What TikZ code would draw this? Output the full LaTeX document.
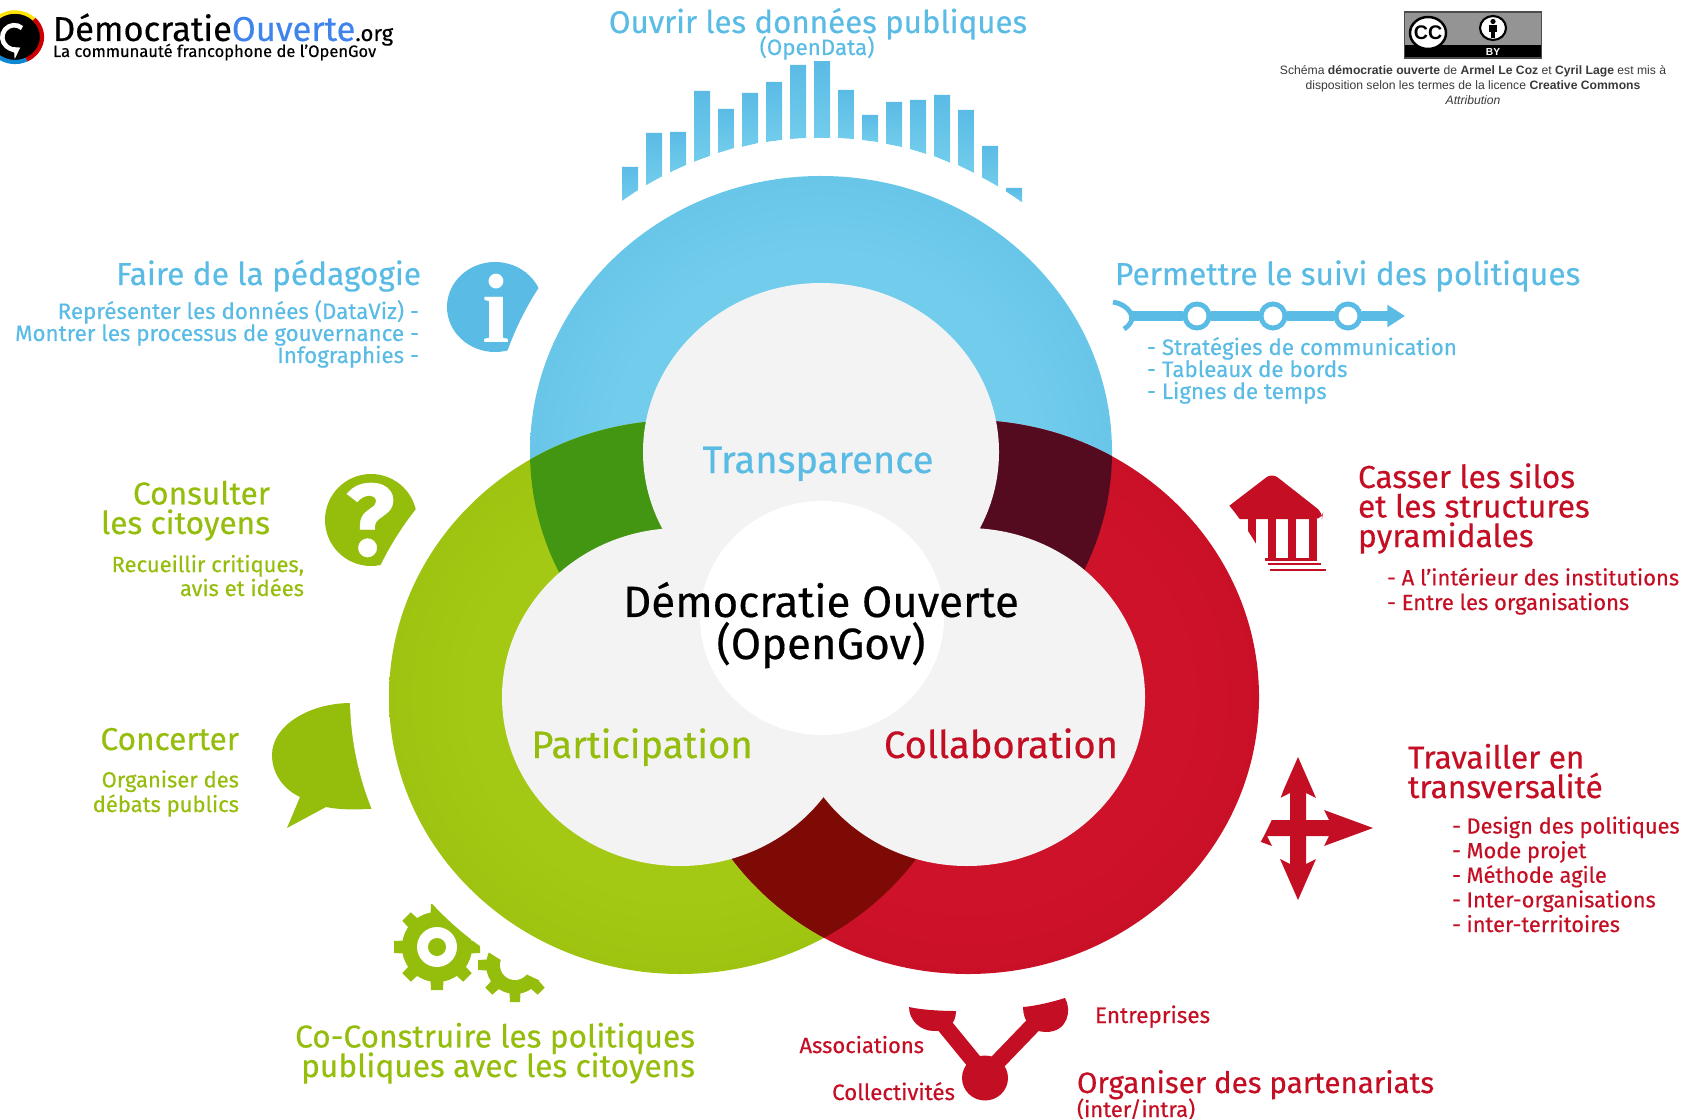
\documentclass[tikz,border=0pt]{standalone}
\usepackage{fontspec}
\setmainfont{Fira Sans}[FakeBold=0.4]
\newfontfamily\licfont{Liberation Sans}
\newfontfamily\iconfont{Liberation Serif}
\usetikzlibrary{arrows.meta}
\lineskiplimit=-20pt
\definecolor{bleu}{HTML}{5ABBE5}
\definecolor{bleuclair}{HTML}{72CDEC}
\definecolor{vert}{HTML}{95BD0C}
\definecolor{vertclair}{HTML}{A4C914}
\definecolor{vertfonce}{HTML}{429612}
\definecolor{rouge}{HTML}{C40E24}
\definecolor{rougeclair}{HTML}{CE1229}
\definecolor{bordeaux}{HTML}{540B1F}
\definecolor{brique}{HTML}{7E0A06}
\definecolor{coeur}{HTML}{F3F3F3}
\pgfdeclareradialshading{anneaubleu}{\pgfpointorigin}{color(0bp)=(bleuclair);color(18bp)=(bleuclair);color(35bp)=(bleu)}
\pgfdeclareradialshading{anneauvert}{\pgfpointorigin}{color(0bp)=(vertclair);color(18bp)=(vertclair);color(35bp)=(vert)}
\pgfdeclareradialshading{anneaurouge}{\pgfpointorigin}{color(0bp)=(rougeclair);color(18bp)=(rougeclair);color(35bp)=(rouge)}
\def\cercleB{(821,452) ellipse (291 and 276)}
\def\cercleV{(680,697) ellipse (291 and 277)}
\def\cercleR{(968,697) ellipse (291 and 277)}
\newcommand{\engrenage}[4]{%
	\foreach \a in {0,45,...,315}
		\fill[vert,rotate around={\a:(#1,#2)}] ({#1-#4-2},#2) -- ({#1-#4},{#2+#3}) -- ({#1+#4},{#2+#3}) -- ({#1+#4+2},#2) -- cycle;%
}
\tikzset{
	txt/.style={inner sep=0pt,outer sep=0pt},
	titre/.style={txt,font=\fontsize{9}{8.4}\selectfont},
	detail/.style={txt,font=\fontsize{6.25}{7}\selectfont},
	cle/.style={txt,font=\fontsize{10.85}{12}\selectfont},
	etape/.style={circle,draw=bleu,fill=white,line width=1.4pt,minimum size=24*0.2845pt,inner sep=0pt},
	ligne/.style={bleu,line width=3.1pt},
}
\begin{document}
\begin{tikzpicture}[x=0.01cm,y=-0.01cm]
	\useasboundingbox (0,0) rectangle (1689,1119);
	% info
	\fill[bleu] (495,307) ellipse (48 and 45);
	\node[txt,white,font=\iconfont\bfseries\fontsize{28}{28}\selectfont] (lettre) at (496,308) {i};
	% barres du haut
	\foreach \x/\t/\l/\r in {622/167/202/191,646/133/186/177,670/132/173/165,694/91/162/156,718/109/153/148,742/93/147/143,766/82/142/140,790/65/139/138,814/62/138/138,838/90/138/139,862/115/140/142,886/102/144/147,910/100/149/154,934/95/156/163,958/110/165/173,982/146/178/187,1006/188/192/203}
		\shade[top color=bleu,bottom color=bleuclair] (\x,\t) -- ({\x+16},\t) -- ({\x+16},\r) -- (\x,\l) -- cycle;
	\fill[white] (821,452) ellipse (331 and 314);
	% question
	\fill[vert] (371,520) circle (46);
	\node[txt,white,font=\bfseries\fontsize{29}{29}\selectfont] (question) at (370,520) {?};
	% bulle
	\fill[vert] (351,703) .. controls (310,703) and (272,725) .. (272,755) .. controls (272,775) and (285,790) .. (300,797) -- (287,828) -- (326,807) .. controls (340,810) and (360,810) .. (380,808) -- (400,808) -- (400,703) -- cycle;
	% engrenages
	\engrenage{515}{965}{37}{5}
	\fill[vert] (515,965) circle (29);
	\fill[white] (515,965) circle (15);
	\engrenage{437}{947}{43}{6}
	\fill[vert] (437,947) circle (35);
	\fill[white] (437,947) circle (20);
	\fill[vert] (437,947) circle (9);
	\fill[white] (680,697) ellipse (330 and 313);
	% temple
	\fill[rouge,rounded corners=2] (1272,473) -- (1323,513) -- (1322,519) -- (1212,519) -- cycle;
	\foreach \x in {1248,1268,1288,1309}
		\fill[rouge] (\x,519) rectangle ({\x+8},560);
	\fill[rouge] (1265,558) rectangle (1317,561);
	\fill[rouge] (1268,563) rectangle (1321,565);
	\fill[rouge] (1270,569) rectangle (1326,571);
	% fleches
	\fill[rouge] (1298,757) -- (1316,798) -- (1306,793) -- (1306,820) -- (1329,820) -- (1324,810) -- (1373,828) -- (1324,846) -- (1329,836) -- (1306,836) -- (1306,864) -- (1316,859) -- (1298,900) -- (1280,859) -- (1290,864) -- (1290,836) -- (1267,836) -- (1272,846) -- (1223,828) -- (1272,810) -- (1267,820) -- (1290,820) -- (1290,793) -- (1280,798) -- cycle;
	\fill[white] (968,697) ellipse (330 and 313);
	% les trois anneaux
	\shade[shading=anneaubleu] \cercleB;
	\shade[shading=anneauvert] \cercleV;
	\shade[shading=anneaurouge] \cercleR;
	\begin{scope}
		\clip \cercleB;
		\fill[vertfonce] \cercleV;
		\fill[bordeaux] \cercleR;
	\end{scope}
	\begin{scope}
		\clip \cercleV;
		\fill[brique] \cercleR;
	\end{scope}
	\fill[coeur] (821,452) ellipse (178 and 169);
	\fill[coeur] (680,697) ellipse (178 and 169);
	\fill[coeur] (967,697) ellipse (178 and 169);
	\fill[white] (822,618) ellipse (122 and 117);
	% partenariats
	\fill[rouge] (985,1078) ellipse (23 and 22.5);
	\draw[rouge,line width=4.6pt] (940,1020) -- (985,1075);
	\draw[rouge,line width=4.6pt] (1038,1020) -- (985,1075);
	\fill[rouge] (909,1007) .. controls (922,1010) and (942,1011) .. (956,1011) .. controls (956,1025) and (946,1031) .. (934,1031) .. controls (920,1031) and (909,1020) .. (909,1007) -- cycle;
	\fill[rouge] (1023,1007) .. controls (1036,1006) and (1052,1002) .. (1065,998) .. controls (1072,1010) and (1068,1032) .. (1046,1032) .. controls (1032,1032) and (1023,1022) .. (1023,1007) -- cycle;
	% suivi
	\coordinate (depart) at (1130,316);
	\coordinate (arrivee) at (1405,316);
	\node[etape] (e1) at (1197,316) {};
	\node[etape] (e2) at (1273,316) {};
	\node[etape] (e3) at (1348,316) {};
	\draw[bleu,line width=1.4pt] (1113,302) .. controls (1127,304) and (1141,318) .. (1124,329);
	\draw[ligne] (depart) -- (e1);
	\draw[ligne] (e1) -- (e2);
	\draw[ligne] (e2) -- (e3);
	\draw[ligne,-{Triangle[length=5pt,width=6pt]}] (e3) -- (arrivee);
	% logo
	\fill[black] (15,37) ellipse (27 and 25);
	\draw[yellow!85!orange,line width=1pt] (15,37) ++(-130:27 and 25) arc (-130:-45:27 and 25);
	\draw[red!80!black,line width=1.2pt] (15,37) ++(-45:27 and 25) arc (-45:65:27 and 25);
	\draw[cyan!70!blue,line width=1.2pt] (15,37) ++(65:27 and 25) arc (65:130:27 and 25);
	\draw[white,line width=1.3pt,-{Stealth[length=3pt,width=4pt]}] (22,28) arc (-50:-300:12);
	\node[txt,anchor=base west,font=\fontsize{9.8}{10}\selectfont] (logo) at (53,41) {Démocratie\textcolor{bleu!70!blue}{Ouverte}{\fontsize{6.3}{7}\selectfont.org}};
	\node[txt,anchor=base west,font=\fontsize{4.7}{5}\selectfont] (slogan) at (53,57) {La communauté francophone de l’OpenGov};
	% licence
	\fill[gray!60!black!60] (1404,12) rectangle (1541,58);
	\fill[black] (1404,45) rectangle (1541,58);
	\draw[black!70,line width=0.3pt] (1404,12) rectangle (1541,58);
	\filldraw[fill=white,draw=black,line width=0.7pt] (1428,33) ellipse (18 and 16);
	\node[txt,font=\licfont\bfseries\fontsize{5.6}{6}\selectfont] (cc) at (1428,33) {CC};
	\filldraw[fill=white,draw=black,line width=0.6pt] (1493,28) ellipse (13 and 12);
	\fill[black] (1493,21.5) circle (2.6);
	\fill[black] (1489,25) rectangle (1497,32);
	\fill[black] (1491,32) rectangle (1495,38);
	\node[txt,white,font=\licfont\bfseries\fontsize{2.9}{3}\selectfont] (by) at (1493,52) {BY};
	\node[txt,anchor=base,gray!45!black,align=center,font=\licfont\fontsize{3.46}{4.27}\selectfont] (licence) at (1473,105) {Schéma \textbf{démocratie ouverte} de \textbf{Armel Le Coz} et \textbf{Cyril Lage} est mis à\\disposition selon les termes de la licence \textbf{Creative Commons}\\\textit{Attribution}};
	% textes
	\node[titre,bleu,anchor=base,font=\fontsize{8.9}{9}\selectfont] (ouvrir) at (818,33) {Ouvrir les données publiques};
	\node[txt,bleu,anchor=base,font=\fontsize{6.35}{7}\selectfont] (opendata) at (817,55) {(OpenData)};
	\node[titre,bleu,anchor=base east] (faire) at (421,285) {Faire de la pédagogie};
	\node[detail,bleu,anchor=base east,align=right,font=\fontsize{6.35}{6.26}\selectfont] (faireliste) at (419,363) {Représenter les données (DataViz) -\\Montrer les processus de gouvernance -\\Infographies -};
	\node[titre,bleu,anchor=base west] (permettre) at (1115,285) {Permettre le suivi des politiques};
	\node[detail,bleu,anchor=base west,align=left,font=\fontsize{6.35}{6.26}\selectfont] (permettreliste) at (1147,399) {- Stratégies de communication\\- Tableaux de bords\\- Lignes de temps};
	\node[cle,bleu,anchor=base] (transparence) at (818,473) {Transparence};
	\node[txt,black,anchor=base,align=center,font=\fontsize{12.45}{11.95}\selectfont] (centre) at (821,659) {Démocratie Ouverte\\(OpenGov)};
	\node[cle,vert,anchor=base] (participation) at (642,758) {Participation};
	\node[cle,rouge,anchor=base] (collaboration) at (1001,758) {Collaboration};
	\node[titre,vert,anchor=base east,align=right] (consulter) at (270,534) {Consulter\\les citoyens};
	\node[detail,vert,anchor=base east,align=right,font=\fontsize{6.25}{6.8}\selectfont] (consulterliste) at (304,596) {Recueillir critiques,\\avis et idées};
	\node[titre,vert,anchor=base east] (concerter) at (239,750) {Concerter};
	\node[detail,vert,anchor=base east,align=right] (concerterliste) at (239,812) {Organiser des\\débats publics};
	\node[titre,vert,anchor=base east,align=right] (coconstruire) at (695,1077) {Co-Construire les politiques\\publiques avec les citoyens};
	\node[titre,rouge,anchor=base west,align=left] (casser) at (1358,547) {Casser les silos\\et les structures\\pyramidales};
	\node[detail,rouge,anchor=base west,align=left] (casserliste) at (1387,610) {- A l’intérieur des institutions\\- Entre les organisations};
	\node[titre,rouge,anchor=base west,align=left] (travailler) at (1408,798) {Travailler en\\transversalité};
	\node[detail,rouge,anchor=base west,align=left,font=\fontsize{6.2}{7}\selectfont] (travaillerliste) at (1452,932) {- Design des politiques\\- Mode projet\\- Méthode agile\\- Inter-organisations\\- inter-territoires};
	\node[detail,rouge,anchor=base west,font=\fontsize{6.4}{7}\selectfont] (entreprises) at (1095,1023) {Entreprises};
	\node[detail,rouge,anchor=base east,font=\fontsize{6.25}{7}\selectfont] (associations) at (924,1053) {Associations};
	\node[detail,rouge,anchor=base east,font=\fontsize{6.35}{7}\selectfont] (collectivites) at (955,1100) {Collectivités};
	\node[titre,rouge,anchor=base west,font=\fontsize{8.4}{9}\selectfont] (organiser) at (1077,1093) {Organiser des partenariats};
	\node[txt,rouge,anchor=base west,font=\fontsize{6.25}{7}\selectfont] (interintra) at (1077,1117) {(inter/intra)};
\end{tikzpicture}
\end{document}
